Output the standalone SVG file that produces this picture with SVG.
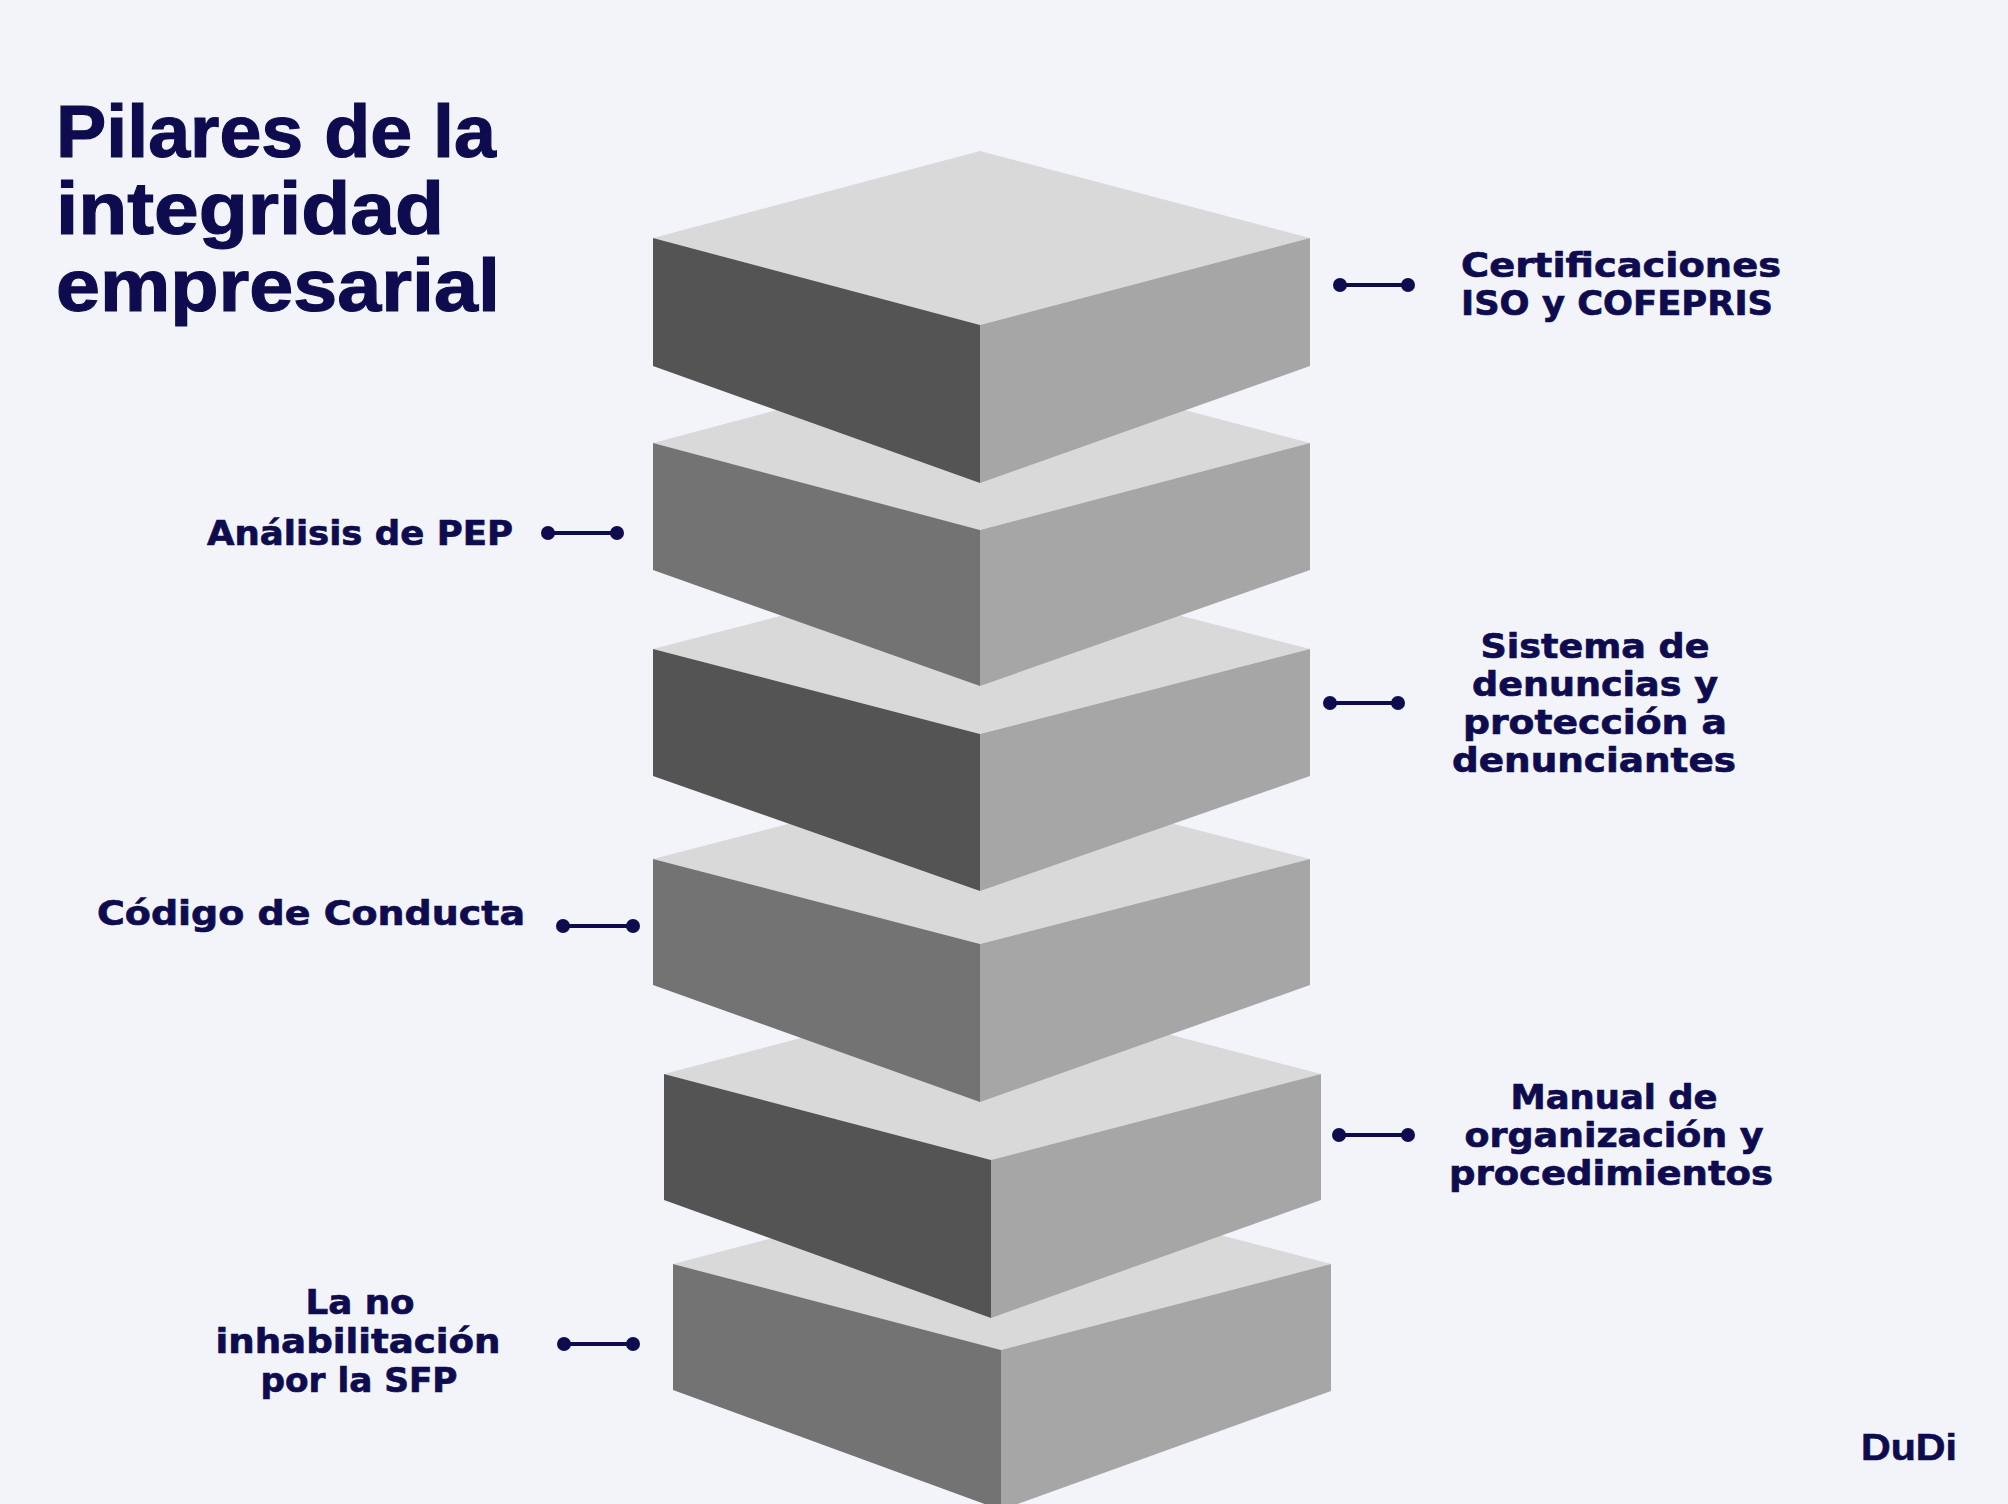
<svg xmlns="http://www.w3.org/2000/svg" width="2008" height="1504" viewBox="0 0 2008 1504">
<style>
.top{fill:#d9d9d9}
.rt{fill:#a6a6a6}
.dk{fill:#545454}
.md{fill:#737373}
.title{font-family:"Liberation Sans",Arial,sans-serif;font-weight:700;font-size:75px;fill:#0e0c4f;stroke:#0e0c4f;stroke-width:1.2}
.lbl{font-family:"DejaVu Sans","Liberation Sans",sans-serif;font-weight:700;font-size:34px;fill:#0e0c4f;stroke:#0e0c4f;stroke-width:0.7}
.c{text-anchor:middle}
.ln{stroke:#0e0c4f;stroke-width:4;fill:none}
.dot{fill:#0e0c4f}
</style>
<rect width="2008" height="1504" fill="#f2f4fa"/>
<g id="title">
<text class="title" x="56" y="157" textLength="440" lengthAdjust="spacingAndGlyphs">Pilares de la</text>
<text class="title" x="56" y="234" textLength="388" lengthAdjust="spacingAndGlyphs">integridad</text>
<text class="title" x="56" y="311" textLength="444" lengthAdjust="spacingAndGlyphs">empresarial</text>
</g>
<g id="block6">
<polygon class="top" points="1001,1178 1331,1264 1001,1350 673,1264"/>
<polygon class="md" points="673,1264 1001,1350 1001,1510 673,1390"/>
<polygon class="rt" points="1001,1350 1331,1264 1331,1391 1001,1510"/>
</g>
<g id="block5">
<polygon class="top" points="991,988 1321,1074 991,1160 664,1074"/>
<polygon class="dk" points="664,1074 991,1160 991,1318 664,1200"/>
<polygon class="rt" points="991,1160 1321,1074 1321,1200 991,1318"/>
</g>
<g id="block4">
<polygon class="top" points="980,774 1310,859 980,944 653,859"/>
<polygon class="md" points="653,859 980,944 980,1102 653,985"/>
<polygon class="rt" points="980,944 1310,859 1310,985 980,1102"/>
</g>
<g id="block3">
<polygon class="top" points="980,564 1310,649 980,734 653,649"/>
<polygon class="dk" points="653,649 980,734 980,891 653,776"/>
<polygon class="rt" points="980,734 1310,649 1310,776 980,891"/>
</g>
<g id="block2">
<polygon class="top" points="980,356 1310,443 980,530 653,443"/>
<polygon class="md" points="653,443 980,530 980,686 653,570"/>
<polygon class="rt" points="980,530 1310,443 1310,570 980,686"/>
</g>
<g id="block1">
<polygon class="top" points="980,151 1310,238 980,325 653,238"/>
<polygon class="dk" points="653,238 980,325 980,483 653,366"/>
<polygon class="rt" points="980,325 1310,238 1310,366 980,483"/>
</g>
<g id="connectors">
<line class="ln" x1="1340" y1="285" x2="1408" y2="285"/><circle class="dot" cx="1340" cy="285" r="7"/><circle class="dot" cx="1408" cy="285" r="7"/>
<line class="ln" x1="548" y1="533" x2="617" y2="533"/><circle class="dot" cx="548" cy="533" r="7"/><circle class="dot" cx="617" cy="533" r="7"/>
<line class="ln" x1="1330" y1="703" x2="1398" y2="703"/><circle class="dot" cx="1330" cy="703" r="7"/><circle class="dot" cx="1398" cy="703" r="7"/>
<line class="ln" x1="563" y1="926" x2="633" y2="926"/><circle class="dot" cx="563" cy="926" r="7"/><circle class="dot" cx="633" cy="926" r="7"/>
<line class="ln" x1="1339" y1="1135" x2="1408" y2="1135"/><circle class="dot" cx="1339" cy="1135" r="7"/><circle class="dot" cx="1408" cy="1135" r="7"/>
<line class="ln" x1="564" y1="1344" x2="633" y2="1344"/><circle class="dot" cx="564" cy="1344" r="7"/><circle class="dot" cx="633" cy="1344" r="7"/>
</g>
<g id="label1">
<text class="lbl" x="1461" y="277" textLength="320" lengthAdjust="spacingAndGlyphs">Certificaciones</text>
<text class="lbl" x="1461" y="315" textLength="312" lengthAdjust="spacingAndGlyphs">ISO y COFEPRIS</text>
</g>
<g id="label2">
<text class="lbl" x="207" y="545" textLength="306" lengthAdjust="spacingAndGlyphs">Análisis de PEP</text>
</g>
<g id="label3">
<text class="lbl c" x="1595" y="658" textLength="229" lengthAdjust="spacingAndGlyphs">Sistema de</text>
<text class="lbl c" x="1595" y="696" textLength="246" lengthAdjust="spacingAndGlyphs">denuncias y</text>
<text class="lbl c" x="1595" y="734" textLength="264" lengthAdjust="spacingAndGlyphs">protección a</text>
<text class="lbl c" x="1594" y="772" textLength="284" lengthAdjust="spacingAndGlyphs">denunciantes</text>
</g>
<g id="label4">
<text class="lbl" x="97" y="925" textLength="428" lengthAdjust="spacingAndGlyphs">Código de Conducta</text>
</g>
<g id="label5">
<text class="lbl c" x="1614" y="1109" textLength="207" lengthAdjust="spacingAndGlyphs">Manual de</text>
<text class="lbl c" x="1614" y="1147" textLength="299" lengthAdjust="spacingAndGlyphs">organización y</text>
<text class="lbl c" x="1611" y="1185" textLength="324" lengthAdjust="spacingAndGlyphs">procedimientos</text>
</g>
<g id="label6">
<text class="lbl c" x="360" y="1314" textLength="109" lengthAdjust="spacingAndGlyphs">La no</text>
<text class="lbl c" x="358" y="1353" textLength="285" lengthAdjust="spacingAndGlyphs">inhabilitación</text>
<text class="lbl c" x="359" y="1392" textLength="197" lengthAdjust="spacingAndGlyphs">por la SFP</text>
</g>
<g id="brand">
<text class="title" x="1861" y="1460" style="font-size:37px;stroke-width:0.6" textLength="96" lengthAdjust="spacingAndGlyphs">DuDi</text>
</g>
</svg>
